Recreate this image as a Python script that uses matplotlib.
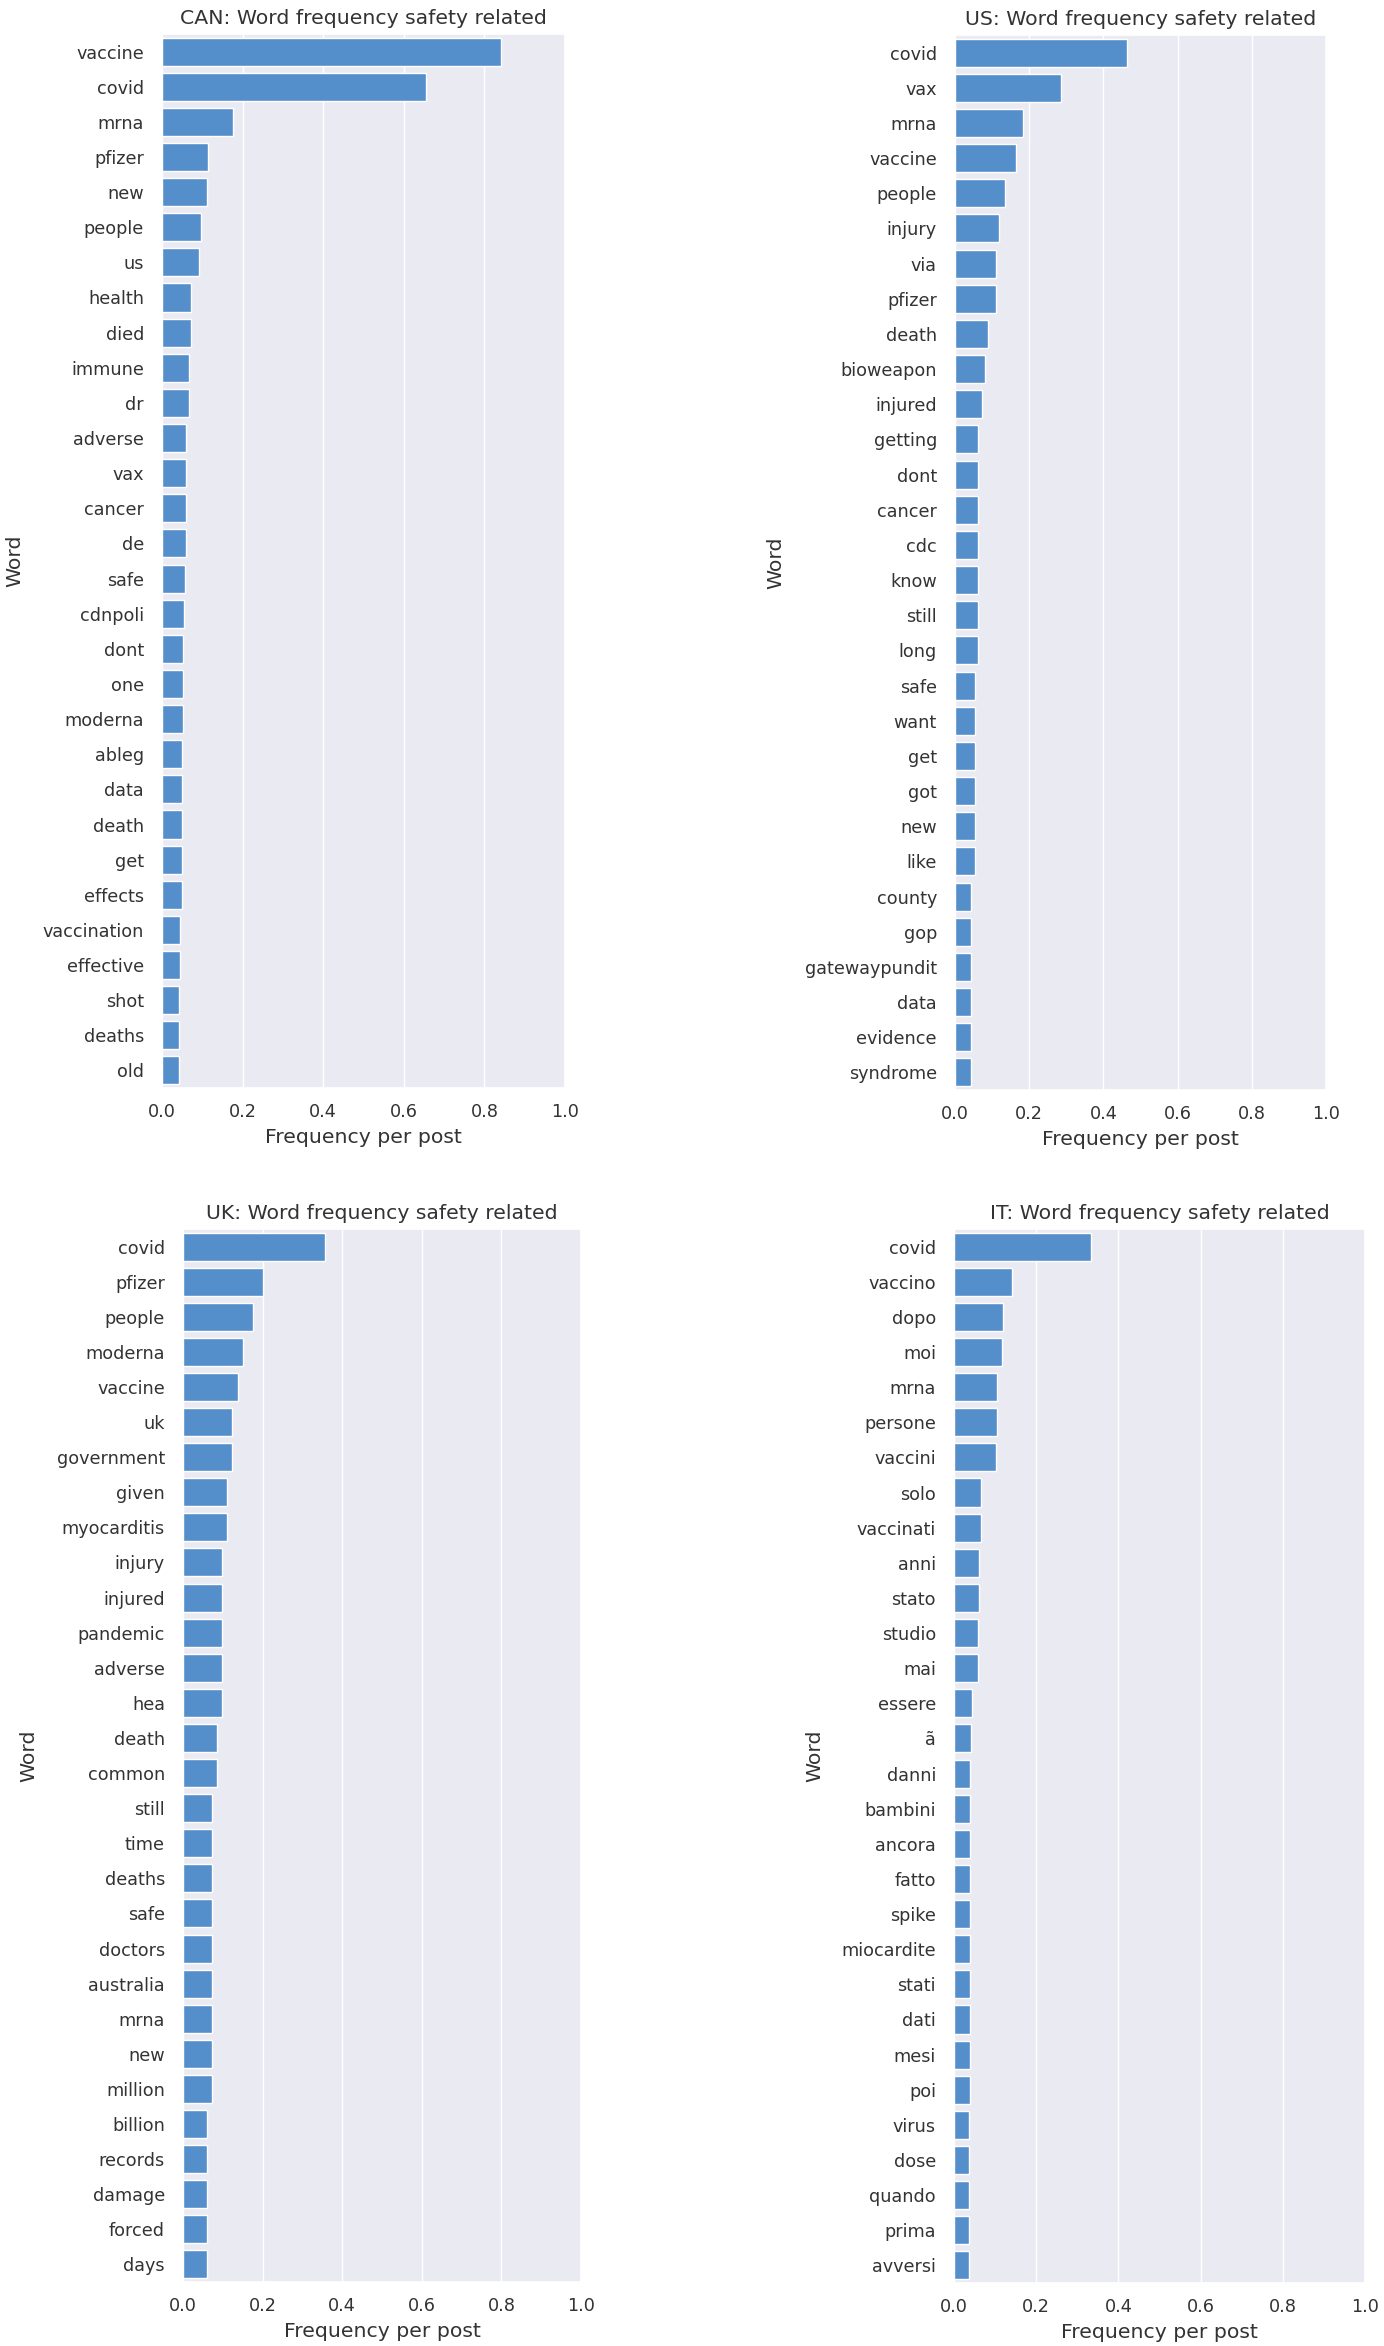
import numpy as np
import pandas as pd
import matplotlib.pyplot as plt
import seaborn as sns

sns.set_theme(style='darkgrid')
plt.rcParams['font.family'] = ['DejaVu Sans']
plt.rcParams['text.color'] = '#333333'
plt.rcParams['xtick.color'] = '#333333'
plt.rcParams['ytick.color'] = '#333333'
plt.rcParams['axes.labelcolor'] = '#333333'

# word frequencies per post
can_words = ['vaccine', 'covid', 'mrna', 'pfizer', 'new', 'people', 'us', 'health', 'died', 'immune',
             'dr', 'adverse', 'vax', 'cancer', 'de', 'safe', 'cdnpoli', 'dont', 'one', 'moderna',
             'ableg', 'data', 'death', 'get', 'effects', 'vaccination', 'effective', 'shot', 'deaths', 'old']
can_freq = [0.840, 0.654, 0.177, 0.113, 0.111, 0.097, 0.092, 0.071, 0.071, 0.068,
            0.068, 0.060, 0.060, 0.060, 0.060, 0.058, 0.055, 0.053, 0.053, 0.053,
            0.050, 0.050, 0.050, 0.050, 0.050, 0.044, 0.044, 0.041, 0.041, 0.041]

us_words = ['covid', 'vax', 'mrna', 'vaccine', 'people', 'injury', 'via', 'pfizer', 'death', 'bioweapon',
            'injured', 'getting', 'dont', 'cancer', 'cdc', 'know', 'still', 'long', 'safe', 'want',
            'get', 'got', 'new', 'like', 'county', 'gop', 'gatewaypundit', 'data', 'evidence', 'syndrome']
us_freq = [0.464, 0.286, 0.182, 0.164, 0.136, 0.118, 0.110, 0.110, 0.088, 0.082,
           0.073, 0.063, 0.063, 0.063, 0.063, 0.063, 0.063, 0.063, 0.054, 0.054,
           0.054, 0.054, 0.054, 0.054, 0.044, 0.044, 0.044, 0.044, 0.044, 0.044]

uk_words = ['covid', 'pfizer', 'people', 'moderna', 'vaccine', 'uk', 'government', 'given', 'myocarditis', 'injury',
            'injured', 'pandemic', 'adverse', 'hea', 'death', 'common', 'still', 'time', 'deaths', 'safe',
            'doctors', 'australia', 'mrna', 'new', 'million', 'billion', 'records', 'damage', 'forced', 'days']
uk_freq = [0.358, 0.202, 0.177, 0.151, 0.138, 0.124, 0.124, 0.111, 0.111, 0.099,
           0.099, 0.099, 0.099, 0.099, 0.086, 0.086, 0.073, 0.073, 0.073, 0.073,
           0.073, 0.073, 0.073, 0.073, 0.073, 0.061, 0.061, 0.061, 0.061, 0.061]

it_words = ['covid', 'vaccino', 'dopo', 'moi', 'mrna', 'persone', 'vaccini', 'solo', 'vaccinati', 'anni',
            'stato', 'studio', 'mai', 'essere', 'ã', 'danni', 'bambini', 'ancora', 'fatto', 'spike',
            'miocardite', 'stati', 'dati', 'mesi', 'poi', 'virus', 'dose', 'quando', 'prima', 'avversi']
it_freq = [0.334, 0.141, 0.120, 0.116, 0.104, 0.104, 0.102, 0.065, 0.065, 0.062,
           0.062, 0.059, 0.059, 0.045, 0.042, 0.040, 0.039, 0.039, 0.039, 0.039,
           0.039, 0.039, 0.039, 0.039, 0.039, 0.036, 0.036, 0.036, 0.036, 0.036]

W, H = 1384, 2346
BAR = '#558FCB'

fig = plt.figure(figsize=(W / 100, H / 100), dpi=100)
fig.patch.set_facecolor('white')


def panel(title, words, freq, box, ylab_x):
    l, t, r, b = box  # pixel box of the axes
    ax = fig.add_axes([l / W, 1 - b / H, (r - l) / W, (b - t) / H])
    pos = np.arange(len(words))
    ax.barh(pos, freq, height=0.8, color=BAR, edgecolor='white', linewidth=1)
    ax.set_yticks(pos)
    ax.set_yticklabels(words)
    ax.set_ylim(len(words) - 0.5, -0.5)
    ax.set_xlim(0, 1)
    ax.set_xticks(np.arange(0, 1.01, 0.2))
    ax.grid(axis='y', visible=False)
    ax.tick_params(axis='y', labelsize=12.7, pad=13, length=0)
    ax.tick_params(axis='x', labelsize=12.7, pad=11, length=0)
    ax.set_title(title, fontsize=14.7, pad=7)
    ax.set_xlabel('Frequency per post', fontsize=14.7, labelpad=5)
    ax.set_ylabel('Word', fontsize=14.7)
    ax.yaxis.set_label_coords((ylab_x + 9) / W, 1 - (t + b) / 2 / H, transform=fig.transFigure)
    return ax


panel('CAN: Word frequency safety related', can_words, can_freq, (162, 34, 565, 1088), 15)
panel('US: Word frequency safety related', us_words, us_freq, (955, 35, 1326, 1090), 776)
panel('UK: Word frequency safety related', uk_words, uk_freq, (183, 1229, 581, 2282), 29)
panel('IT: Word frequency safety related', it_words, it_freq, (954, 1229, 1365, 2283), 815)

fig.savefig('out.png', dpi=100)
